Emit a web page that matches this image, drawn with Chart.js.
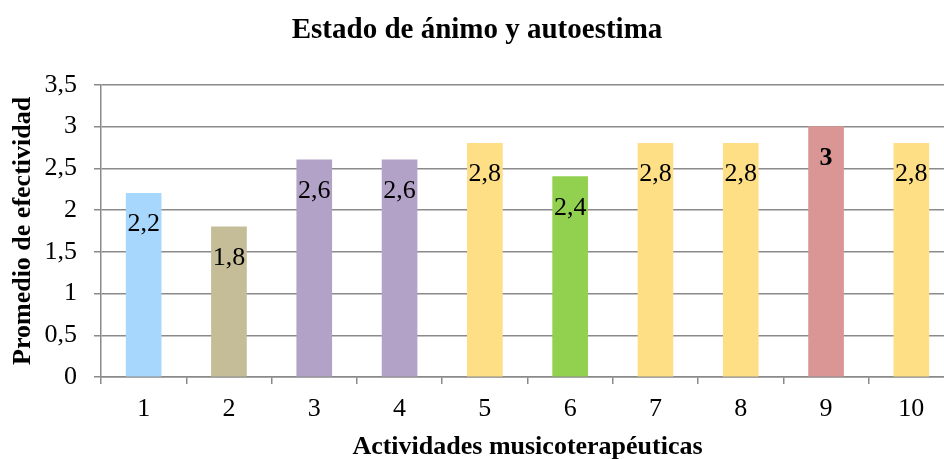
<!DOCTYPE html>
<html>
<head>
<meta charset="utf-8">
<script src="https://cdn.jsdelivr.net/npm/chart.js@4/dist/chart.umd.min.js"></script>
<style>
  html, body { margin: 0; padding: 0; background: #fff; overflow: hidden; }
</style>
</head>
<body>
<canvas id="grafico" width="954" height="459"></canvas>
<script>
// Datos de la gráfica
var actividades = ['1', '2', '3', '4', '5', '6', '7', '8', '9', '10'];
var promedios = [2.2, 1.8, 2.6, 2.6, 2.8, 2.4, 2.8, 2.8, 3, 2.8];
var coloresBarras = ['#A7D7FC', '#C4BD97', '#B3A2C7', '#B3A2C7', '#FEDF86', '#92D050', '#FEDF86', '#FEDF86', '#D99694', '#FEDF86'];
var etiquetaNegrita = [false, false, false, false, false, false, false, false, true, false];

var fuente = "'Liberation Serif', 'Times New Roman', serif";

function conComa(v) {
    return String(v).replace('.', ',');
}

// Etiquetas de datos dentro de la barra, arriba
var etiquetasDatos = {
    id: 'etiquetasDatos',
    afterDatasetsDraw: function(chart) {
        var ctx = chart.ctx;
        var meta = chart.getDatasetMeta(0);
        ctx.save();
        ctx.fillStyle = '#000';
        ctx.textAlign = 'center';
        ctx.textBaseline = 'alphabetic';
        meta.data.forEach(function(bar, i) {
            ctx.font = (etiquetaNegrita[i] ? 'bold ' : '') + '26px ' + fuente;
            ctx.fillText(conComa(promedios[i]), bar.x, bar.y + 38);
        });
        ctx.restore();
    }
};

var ctx = document.getElementById('grafico').getContext('2d');
new Chart(ctx, {
    type: 'bar',
    data: {
        labels: actividades,
        datasets: [{
            data: promedios,
            backgroundColor: coloresBarras,
            barThickness: 35
        }]
    },
    options: {
        responsive: false,
        animation: false,
        layout: { padding: 0 },
        plugins: {
            legend: { display: false },
            tooltip: { enabled: false },
            title: {
                display: true,
                text: 'Estado de ánimo y autoestima',
                color: '#000',
                font: { family: fuente, size: 29, weight: 'bold', lineHeight: 1.2 },
                padding: { top: 13, bottom: 37 }
            }
        },
        scales: {
            x: {
                grid: {
                    offset: true,
                    drawOnChartArea: false,
                    drawTicks: true,
                    tickLength: 7,
                    color: '#8a8a8a',
                    lineWidth: 1.5
                },
                border: { display: true, color: '#8a8a8a', width: 1.5 },
                ticks: {
                    color: '#000',
                    font: { family: fuente, size: 26 },
                    padding: 10
                },
                title: {
                    display: true,
                    text: 'Actividades musicoterapéuticas',
                    color: '#000',
                    font: { family: fuente, size: 26, weight: 'bold', lineHeight: 0.9 },
                    padding: { top: 0, bottom: 0 }
                },
                afterFit: function(scale) { scale.height = 82; }
            },
            y: {
                min: 0,
                max: 3.5,
                ticks: {
                    stepSize: 0.5,
                    color: '#000',
                    font: { family: fuente, size: 26 },
                    padding: 17,
                    callback: function(v) { return conComa(v); }
                },
                grid: {
                    color: '#8a8a8a',
                    lineWidth: 1.5,
                    tickLength: 7
                },
                border: { display: true, color: '#8a8a8a', width: 1.5 },
                title: {
                    display: true,
                    text: 'Promedio de efectividad',
                    color: '#000',
                    font: { family: fuente, size: 26, weight: 'bold', lineHeight: 1.2 },
                    padding: { top: 8, bottom: 0 }
                },
                afterFit: function(scale) { scale.width = 101; }
            }
        }
    },
    plugins: [etiquetasDatos]
});
</script>
</body>
</html>
